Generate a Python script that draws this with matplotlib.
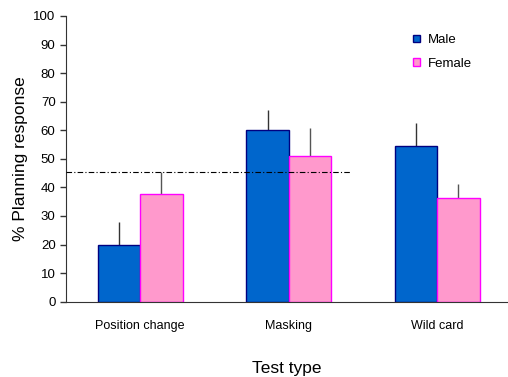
import matplotlib
matplotlib.use("Agg")
import matplotlib.pyplot as plt
import numpy as np

categories = ["Position change", "Masking", "Wild card"]
male = [20.0, 60.0, 54.5]
female = [37.6, 51.0, 36.4]
male_err = [8.0, 7.0, 8.0]
female_err = [7.7, 9.7, 4.8]
ref_line = 45.3

plt.rcParams['font.family'] = ['Liberation Sans', 'DejaVu Sans']

fig = plt.figure(figsize=(5.08, 3.77), dpi=100)
ax = fig.add_axes([66/508, 1-301.7/377, (507-66)/508, (301.7-16)/377])

x = np.arange(len(categories))
w = 0.285
ax.bar(x - w/2, male, width=w, color="#0066CC", edgecolor="#000080", linewidth=1, label="Male", zorder=2)
ax.bar(x + w/2, female, width=w, color="#FF99CC", edgecolor="#FF00FF", linewidth=1, label="Female", zorder=2)
ax.errorbar(x - w/2, male, yerr=[np.zeros(3), male_err], fmt="none", ecolor="#333333", elinewidth=1, capsize=0, zorder=1)
ax.errorbar(x + w/2, female, yerr=[np.zeros(3), female_err], fmt="none", ecolor="#555555", elinewidth=1, capsize=0, zorder=1)

ax.plot([-0.5, 1.41], [ref_line, ref_line], color="black", linestyle=(0, (5, 2, 1, 2)), linewidth=0.8, zorder=3)

ax.set_xlim(-0.5, 2.47)
ax.set_ylim(0, 100)
ax.set_yticks(np.arange(0, 101, 10))
ax.set_xticks(x)
ax.set_xticklabels(categories, fontsize=9)
ax.tick_params(axis="x", length=0, pad=13)
ax.tick_params(axis="y", labelsize=9.5, length=4, direction="out", color="#333333", width=1)
for s in ["top", "right"]:
    ax.spines[s].set_visible(False)
for s in ["left", "bottom"]:
    ax.spines[s].set_color("#333333")
ax.set_ylabel("% Planning response", fontsize=12.5, labelpad=4)
ax.set_xlabel("Test type", fontsize=12.5, labelpad=21)

leg = ax.legend(loc="upper left", bbox_to_anchor=(0.76, 0.978), frameon=False, fontsize=9.5,
                handlelength=0.55, handleheight=0.55, handletextpad=0.6, labelspacing=0.9)

fig.savefig("out.png", dpi=100)
